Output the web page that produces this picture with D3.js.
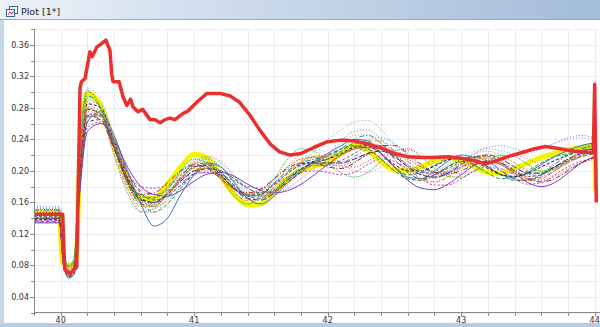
<!DOCTYPE html>
<html><head><meta charset="utf-8">
<script src="https://cdn.jsdelivr.net/npm/d3@7"></script>
<style>html,body{margin:0;padding:0;background:#fff;overflow:hidden}</style>
</head><body><svg id="c" width="600" height="327"></svg>
<script>
// ---------- DATA ----------
const xMajor = [40, 41, 42, 43, 44];
const yMajor = [0.04, 0.08, 0.12, 0.16, 0.20, 0.24, 0.28, 0.32, 0.36];

const gridX = [39.8,39.99,40.02,40.06,40.1,40.14,40.2,40.3,40.4,40.5,40.6,40.7,40.8,40.9,41.0,41.1,41.2,41.3,41.4,41.5,41.6,41.7,41.8,41.9,42.0,42.1,42.2,42.3,42.4,42.5,42.6,42.7,42.8,42.9,43.0,43.1,43.2,43.3,43.4,43.5,43.6,43.7,43.8,43.9,44.0];

const s01 = [0.140,0.140,0.085,0.068,0.072,0.17,0.262,0.275,0.245,0.2,0.158,0.13,0.14,0.17,0.195,0.21,0.205,0.185,0.165,0.158,0.168,0.185,0.2,0.212,0.222,0.232,0.24,0.238,0.222,0.205,0.192,0.19,0.2,0.212,0.22,0.216,0.205,0.195,0.192,0.198,0.208,0.218,0.226,0.232,0.236];
const s02 = [0.136,0.136,0.082,0.065,0.07,0.18,0.268,0.27,0.232,0.19,0.16,0.148,0.158,0.178,0.196,0.204,0.198,0.182,0.168,0.165,0.175,0.19,0.203,0.21,0.215,0.225,0.235,0.236,0.222,0.205,0.195,0.198,0.207,0.215,0.215,0.207,0.197,0.19,0.192,0.2,0.21,0.218,0.222,0.226,0.228];
const s03 = [0.152,0.152,0.095,0.08,0.088,0.22,0.3,0.285,0.23,0.18,0.148,0.147,0.166,0.192,0.21,0.212,0.198,0.178,0.163,0.165,0.182,0.205,0.222,0.228,0.222,0.21,0.2,0.198,0.205,0.218,0.226,0.222,0.21,0.2,0.196,0.2,0.21,0.218,0.22,0.215,0.208,0.205,0.21,0.22,0.232];
const s04 = [0.138,0.138,0.085,0.07,0.078,0.195,0.285,0.28,0.238,0.192,0.165,0.16,0.172,0.19,0.205,0.207,0.195,0.178,0.168,0.17,0.183,0.197,0.208,0.212,0.215,0.222,0.23,0.232,0.222,0.208,0.2,0.2,0.206,0.214,0.217,0.212,0.203,0.195,0.193,0.197,0.205,0.213,0.22,0.225,0.228];
const s05 = [0.148,0.148,0.09,0.075,0.083,0.205,0.29,0.282,0.24,0.196,0.17,0.168,0.18,0.197,0.21,0.21,0.197,0.18,0.172,0.175,0.19,0.205,0.215,0.218,0.215,0.212,0.215,0.222,0.228,0.226,0.215,0.205,0.2,0.203,0.21,0.218,0.222,0.218,0.21,0.202,0.2,0.205,0.215,0.225,0.235];
const s06 = [0.143,0.143,0.088,0.072,0.08,0.185,0.27,0.272,0.238,0.195,0.165,0.155,0.162,0.18,0.198,0.208,0.205,0.19,0.175,0.168,0.17,0.178,0.19,0.205,0.222,0.238,0.25,0.252,0.24,0.22,0.2,0.19,0.19,0.198,0.21,0.222,0.23,0.232,0.228,0.225,0.228,0.235,0.242,0.245,0.242];
const s07 = [0.15,0.15,0.092,0.078,0.085,0.21,0.295,0.28,0.232,0.185,0.158,0.155,0.17,0.192,0.208,0.21,0.198,0.18,0.168,0.17,0.185,0.2,0.21,0.215,0.218,0.228,0.24,0.245,0.235,0.215,0.198,0.19,0.195,0.205,0.215,0.218,0.212,0.2,0.19,0.188,0.195,0.208,0.22,0.228,0.232];
const s08 = [0.141,0.141,0.086,0.07,0.076,0.19,0.275,0.27,0.228,0.185,0.16,0.158,0.17,0.188,0.2,0.2,0.19,0.176,0.17,0.175,0.19,0.205,0.215,0.217,0.212,0.205,0.205,0.212,0.22,0.222,0.215,0.205,0.198,0.198,0.205,0.212,0.215,0.21,0.2,0.193,0.195,0.205,0.215,0.222,0.226];
const s09 = [0.135,0.135,0.083,0.068,0.074,0.175,0.255,0.262,0.232,0.198,0.18,0.178,0.182,0.19,0.196,0.198,0.195,0.187,0.18,0.178,0.183,0.192,0.198,0.2,0.198,0.195,0.198,0.208,0.215,0.212,0.202,0.19,0.182,0.182,0.19,0.2,0.205,0.2,0.19,0.183,0.185,0.195,0.205,0.212,0.216];
const s10 = [0.155,0.155,0.096,0.082,0.09,0.215,0.305,0.29,0.24,0.19,0.16,0.153,0.165,0.188,0.208,0.215,0.205,0.185,0.168,0.165,0.175,0.19,0.208,0.225,0.24,0.252,0.262,0.264,0.252,0.232,0.212,0.2,0.2,0.208,0.218,0.225,0.228,0.225,0.222,0.222,0.228,0.235,0.24,0.242,0.24];
const s11 = [0.139,0.139,0.084,0.066,0.07,0.178,0.262,0.265,0.235,0.198,0.172,0.163,0.168,0.182,0.196,0.203,0.2,0.19,0.178,0.172,0.175,0.185,0.198,0.21,0.22,0.228,0.232,0.228,0.215,0.2,0.19,0.188,0.195,0.205,0.212,0.212,0.205,0.195,0.188,0.188,0.195,0.205,0.212,0.218,0.222];
const s12 = [0.146,0.146,0.089,0.074,0.082,0.2,0.282,0.276,0.232,0.188,0.162,0.16,0.172,0.193,0.21,0.215,0.205,0.187,0.172,0.168,0.178,0.195,0.21,0.218,0.22,0.222,0.228,0.235,0.232,0.22,0.205,0.195,0.193,0.2,0.212,0.222,0.225,0.22,0.21,0.2,0.198,0.203,0.212,0.22,0.226];
const s13 = [0.144,0.144,0.087,0.071,0.078,0.192,0.278,0.272,0.23,0.187,0.163,0.16,0.17,0.187,0.2,0.203,0.193,0.177,0.165,0.163,0.172,0.188,0.202,0.21,0.21,0.21,0.215,0.222,0.225,0.218,0.205,0.195,0.192,0.197,0.208,0.217,0.22,0.215,0.205,0.197,0.197,0.205,0.215,0.222,0.225];
const s14 = [0.153,0.153,0.094,0.08,0.087,0.212,0.292,0.28,0.235,0.19,0.168,0.165,0.178,0.198,0.213,0.218,0.21,0.193,0.178,0.172,0.178,0.192,0.205,0.215,0.22,0.225,0.232,0.24,0.242,0.235,0.22,0.205,0.198,0.2,0.208,0.215,0.218,0.212,0.202,0.195,0.198,0.21,0.222,0.23,0.234];
const s15 = [0.137,0.137,0.082,0.067,0.072,0.182,0.268,0.27,0.24,0.2,0.175,0.17,0.175,0.185,0.195,0.198,0.192,0.18,0.17,0.168,0.175,0.188,0.2,0.207,0.208,0.21,0.218,0.228,0.232,0.225,0.212,0.2,0.195,0.198,0.205,0.21,0.21,0.203,0.195,0.19,0.192,0.2,0.21,0.218,0.222];
const s16 = [0.149,0.149,0.091,0.076,0.084,0.202,0.288,0.282,0.24,0.193,0.165,0.158,0.168,0.19,0.21,0.218,0.212,0.195,0.178,0.17,0.172,0.183,0.197,0.21,0.222,0.235,0.245,0.246,0.235,0.215,0.198,0.188,0.186,0.193,0.205,0.215,0.22,0.215,0.205,0.196,0.194,0.2,0.21,0.218,0.225];
const s17 = [0.142,0.142,0.087,0.072,0.079,0.188,0.272,0.27,0.232,0.19,0.168,0.166,0.178,0.195,0.206,0.205,0.193,0.178,0.17,0.172,0.183,0.197,0.207,0.21,0.21,0.213,0.222,0.23,0.23,0.22,0.207,0.198,0.197,0.203,0.212,0.218,0.218,0.21,0.2,0.193,0.195,0.203,0.213,0.22,0.224];
const s18 = [0.147,0.147,0.09,0.075,0.083,0.198,0.28,0.272,0.228,0.183,0.158,0.157,0.17,0.19,0.205,0.208,0.198,0.182,0.17,0.168,0.176,0.19,0.202,0.207,0.207,0.207,0.212,0.22,0.225,0.22,0.208,0.197,0.192,0.195,0.203,0.21,0.212,0.207,0.198,0.19,0.188,0.193,0.202,0.21,0.215];
const s19 = [0.151,0.151,0.093,0.079,0.086,0.225,0.302,0.278,0.22,0.172,0.148,0.152,0.175,0.2,0.215,0.21,0.19,0.168,0.158,0.168,0.19,0.215,0.228,0.225,0.21,0.198,0.192,0.198,0.212,0.225,0.228,0.218,0.203,0.193,0.192,0.2,0.212,0.22,0.218,0.208,0.2,0.202,0.212,0.225,0.238];
const s20 = [0.134,0.134,0.081,0.064,0.068,0.165,0.25,0.26,0.24,0.205,0.18,0.17,0.168,0.175,0.187,0.196,0.198,0.193,0.183,0.175,0.172,0.175,0.183,0.195,0.208,0.22,0.228,0.23,0.222,0.205,0.188,0.178,0.176,0.183,0.195,0.207,0.212,0.208,0.197,0.185,0.18,0.185,0.197,0.21,0.218];
const s21 = [0.145,0.145,0.088,0.073,0.08,0.195,0.28,0.268,0.222,0.178,0.155,0.155,0.17,0.19,0.203,0.203,0.19,0.172,0.162,0.165,0.18,0.198,0.212,0.218,0.218,0.22,0.228,0.238,0.238,0.225,0.205,0.19,0.186,0.192,0.205,0.215,0.216,0.208,0.196,0.188,0.19,0.2,0.213,0.225,0.232];
const s22 = [0.14,0.14,0.086,0.07,0.077,0.19,0.27,0.265,0.228,0.19,0.17,0.172,0.185,0.2,0.208,0.203,0.19,0.177,0.172,0.177,0.19,0.203,0.21,0.21,0.205,0.203,0.21,0.222,0.232,0.232,0.222,0.208,0.198,0.196,0.2,0.208,0.213,0.21,0.2,0.19,0.186,0.19,0.2,0.21,0.218];
const ensemble = [s01,s02,s03,s04,s05,s06,s07,s08,s09,s10,s11,s12,s13,s14,s15,s16,s17,s18,s19,s20,s21,s22];

const yellowX = [39.8,39.99,40.01,40.06,40.115,40.14,40.2,40.3,40.4,40.5,40.6,40.7,40.8,40.9,41.0,41.1,41.2,41.3,41.4,41.5,41.6,41.7,41.8,41.9,42.0,42.1,42.2,42.3,42.4,42.5,42.6,42.7,42.8,42.9,43.0,43.1,43.2,43.3,43.4,43.5,43.6,43.7,43.8,43.9,44.0,44.005];
const yellowY = [0.147,0.147,0.084,0.08,0.084,0.2,0.298,0.283,0.236,0.19,0.165,0.165,0.183,0.205,0.221,0.216,0.193,0.17,0.157,0.158,0.172,0.19,0.2,0.206,0.21,0.222,0.232,0.226,0.212,0.201,0.2,0.205,0.213,0.217,0.213,0.205,0.198,0.197,0.203,0.21,0.217,0.222,0.227,0.23,0.232,0.175];

const redX = [39.8,40.015,40.03,40.07,40.12,40.145,40.155,40.182,40.219,40.237,40.27,40.307,40.339,40.369,40.382,40.392,40.437,40.467,40.494,40.524,40.542,40.579,40.614,40.669,40.706,40.744,40.782,40.819,40.856,40.918,40.954,41.019,41.094,41.15,41.2,41.27,41.34,41.42,41.49,41.57,41.64,41.72,41.8,41.9,42.0,42.1,42.2,42.3,42.4,42.5,42.6,42.7,42.8,42.9,43.0,43.1,43.18,43.25,43.35,43.45,43.55,43.63,43.74,43.85,43.99,44.0,44.012];
const redY = [0.145,0.145,0.075,0.069,0.078,0.305,0.313,0.317,0.351,0.345,0.357,0.3615,0.366,0.353,0.323,0.313,0.313,0.294,0.283,0.291,0.281,0.275,0.278,0.265,0.265,0.261,0.265,0.267,0.265,0.273,0.276,0.287,0.298,0.298,0.298,0.295,0.287,0.27,0.252,0.234,0.224,0.22,0.222,0.23,0.237,0.239,0.238,0.234,0.229,0.222,0.218,0.217,0.217,0.218,0.216,0.213,0.209,0.212,0.218,0.223,0.228,0.231,0.228,0.225,0.223,0.31,0.16];

// ---------- STYLES ----------
const thinColors = ['#2f6fe0','#1f9a3a','#ff5fc8','#111111','#ff9a1a','#9a5fd0','#0e8c8c','#c0392b','#d020c0','#5aa8ff','#2e6b1f','#9a9a10','#1a2a90','#10b0d0','#b070e0','#ff7f7f','#707070','#8b5a2b','#22aa22','#7b3fb0','#ff8800','#992222'];
const thinDash = ['', '4,2', '1,2', '3,2', '1,2', '1,2', '5,2,1,2', '1,2', '2,2', '1,2', '4,2', '1,2', '6,2', '1,2', '5,2,1,2', '1,2', '3,2', '1,2', '1,1', '', '4,2', '5,2,1,2'];

// ---------- DRAW ----------
const W = 600, H = 327;
const svg = d3.select('#c');
const defs = svg.append('defs');
const hg = defs.append('linearGradient').attr('id','hdr').attr('x1',0).attr('x2',1).attr('y1',0).attr('y2',0);
hg.append('stop').attr('offset','0%').attr('stop-color','#eef3f9');
hg.append('stop').attr('offset','30%').attr('stop-color','#d3e0ef');
hg.append('stop').attr('offset','100%').attr('stop-color','#a2bcd9');
defs.append('clipPath').attr('id','clip').append('rect').attr('x',34).attr('y',29).attr('width',564).attr('height',284);

svg.append('rect').attr('x',0).attr('y',0).attr('width',W).attr('height',19).attr('fill','url(#hdr)');
svg.append('line').attr('x1',0).attr('x2',W).attr('y1',19.5).attr('y2',19.5).attr('stroke','#a8a8a8');
svg.append('rect').attr('x',0).attr('y',20).attr('width',4).attr('height',H-20).attr('fill','#c4d6ea');
svg.append('rect').attr('x',0).attr('y',323).attr('width',W).attr('height',4).attr('fill','#b6cce5');
// tab icon
svg.append('rect').attr('x',9.5).attr('y',6.5).attr('width',8).attr('height',7).attr('fill','#fff').attr('stroke','#3a5f9a');
svg.append('rect').attr('x',6.5).attr('y',9.5).attr('width',8).attr('height',7).attr('fill','#fff').attr('stroke','#3a5f9a');
svg.append('path').attr('d','M8,15 L10,12 L12,14 L13.5,11').attr('fill','none').attr('stroke','#e03030').attr('stroke-width',1);
svg.append('text').attr('x',21).attr('y',15).attr('font-family','"DejaVu Sans", sans-serif').attr('font-size',9.5).attr('fill','#222').text('Plot [1*]');

const x = d3.scaleLinear().domain([39.8, 44.025]).range([34, 598]);
const y = d3.scaleLinear().domain([0.02, 0.38]).range([312.7, 29]);

// grid
const grid = svg.append('g');
grid.selectAll('.gx').data(x.ticks(20)).join('line')
  .attr('x1', d => Math.round(x(d)) + 0.5).attr('x2', d => Math.round(x(d)) + 0.5)
  .attr('y1', 29).attr('y2', 312.7).attr('stroke', '#ebebeb');
grid.selectAll('.gy').data(y.ticks(18)).join('line')
  .attr('y1', d => Math.round(y(d)) + 0.5).attr('y2', d => Math.round(y(d)) + 0.5)
  .attr('x1', 34).attr('x2', 598).attr('stroke', '#ebebeb');

// series
const plot = svg.append('g').attr('clip-path','url(#clip)');
const lineGen = d3.line().curve(d3.curveMonotoneX);

plot.append('path')
  .attr('d', lineGen(yellowX.map((v,i) => [x(v), y(yellowY[i])])))
  .attr('fill','none').attr('stroke','#f4f400').attr('stroke-width',5).attr('stroke-linejoin','round');

ensemble.forEach((s, k) => {
  plot.append('path')
    .attr('d', lineGen(gridX.map((v,i) => [x(v), y(s[i])])))
    .attr('fill','none').attr('stroke', thinColors[k]).attr('stroke-width', 1)
    .attr('stroke-dasharray', thinDash[k] || null);
});

plot.append('path')
  .attr('d', d3.line()(redX.map((v,i) => [x(v), y(redY[i])])))
  .attr('fill','none').attr('stroke','#e8302e').attr('stroke-width',3.5).attr('stroke-linejoin','round');

// axes
const font = '"DejaVu Sans", sans-serif';
const ax = svg.append('g');
ax.append('line').attr('x1',34.5).attr('x2',34.5).attr('y1',29).attr('y2',313).attr('stroke','#8a8a8a');
ax.append('line').attr('x1',34).attr('x2',600).attr('y1',312.5).attr('y2',312.5).attr('stroke','#8a8a8a');
ax.selectAll('.yt').data(y.ticks(18)).join('line')
  .attr('x1', d => yMajor.some(m => Math.abs(m - d) < 1e-9) ? 30 : 31).attr('x2', 34)
  .attr('y1', d => Math.round(y(d)) + 0.5).attr('y2', d => Math.round(y(d)) + 0.5).attr('stroke','#8a8a8a');
ax.selectAll('.xt').data(x.ticks(20)).join('line')
  .attr('x1', d => Math.round(x(d)) + 0.5).attr('x2', d => Math.round(x(d)) + 0.5)
  .attr('y1', 313).attr('y2', 316).attr('stroke','#8a8a8a');
ax.selectAll('.yl').data(yMajor).join('text')
  .attr('x', 29).attr('y', d => y(d) + 3).attr('text-anchor','end')
  .attr('font-family', font).attr('font-size', 8).attr('fill','#333')
  .text(d => d3.format('.2f')(d));
ax.selectAll('.xl').data(xMajor).join('text')
  .attr('x', d => x(d)).attr('y', 323).attr('text-anchor','middle')
  .attr('font-family', font).attr('font-size', 8).attr('fill','#333')
  .text(d => d);
</script></body></html>
